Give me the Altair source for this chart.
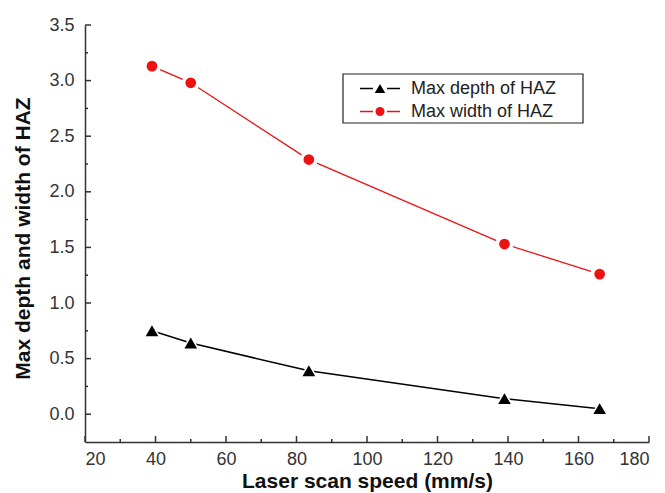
import altair as alt
import pandas as pd

speed = [39, 50, 83.5, 139, 166]
depth = [0.75, 0.64, 0.39, 0.14, 0.05]
width_haz = [3.13, 2.98, 2.29, 1.53, 1.26]
series_names = ["Max depth of HAZ", "Max width of HAZ"]
x_major = [20, 40, 60, 80, 100, 120, 140, 160, 180]
x_minor = [30, 50, 70, 90, 110, 130, 150, 170]
y_major = [0.0, 0.5, 1.0, 1.5, 2.0, 2.5, 3.0, 3.5]
y_minor = [0.25, 0.75, 1.25, 1.75, 2.25, 2.75, 3.25]

W, H = 564, 417
FONT = "Liberation Sans"
RED = "#ee1111"
BLACK = "#000000"

df_d = pd.DataFrame({"speed": speed, "val": depth})
df_w = pd.DataFrame({"speed": speed, "val": width_haz})

xs = alt.Scale(domain=[20, 180], nice=False, zero=False)
ys = alt.Scale(domain=[-0.25, 3.5], nice=False, zero=False)

x_axis = alt.Axis(values=x_major, format="d", tickSize=0, labelPadding=8,
                  labelFontSize=18, labelColor="#333333", labelFont=FONT,
                  title="Laser scan speed (mm/s)", titleFont=FONT, titleFontSize=21,
                  titleFontWeight="bold", titleColor="#111111", titlePadding=2,
                  domainColor="#333333", domainWidth=1.5, grid=False)
y_axis = alt.Axis(values=y_major, format=".1f", tickSize=0, labelPadding=11,
                  labelFontSize=18, labelColor="#333333", labelFont=FONT,
                  title="Max depth and width of HAZ", titleFont=FONT, titleFontSize=21,
                  titleFontWeight="bold", titleColor="#111111", titlePadding=15,
                  titleY=213,
                  domainColor="#333333", domainWidth=1.5, grid=False)

base_x = alt.X("speed:Q", scale=xs, axis=x_axis)
base_y = alt.Y("val:Q", scale=ys, axis=y_axis)

line_d = alt.Chart(df_d).mark_line(color=BLACK, strokeWidth=1.5).encode(x=base_x, y=base_y)
line_w = alt.Chart(df_w).mark_line(color=RED, strokeWidth=1.3).encode(
    x=alt.X("speed:Q", scale=xs), y=alt.Y("val:Q", scale=ys))

gap_d = alt.Chart(df_d).mark_point(shape="triangle-up", filled=True, color="white", size=400, opacity=1).encode(
    x=alt.X("speed:Q", scale=xs), y=alt.Y("val:Q", scale=ys))
pt_d = alt.Chart(df_d).mark_point(shape="triangle-up", filled=True, color=BLACK, size=160, opacity=1).encode(
    x=alt.X("speed:Q", scale=xs), y=alt.Y("val:Q", scale=ys))
gap_w = alt.Chart(df_w).mark_point(shape="circle", filled=True, color="white", size=320, opacity=1).encode(
    x=alt.X("speed:Q", scale=xs), y=alt.Y("val:Q", scale=ys))
pt_w = alt.Chart(df_w).mark_point(shape="circle", filled=True, color=RED, size=115, opacity=1).encode(
    x=alt.X("speed:Q", scale=xs), y=alt.Y("val:Q", scale=ys))

# inward ticks
xt_major = alt.Chart(pd.DataFrame({"t": x_major})).mark_rule(color="#333333", strokeWidth=1.5).encode(
    x=alt.X("t:Q", scale=xs), y=alt.value(H), y2=alt.value(H - 6))
xt_minor = alt.Chart(pd.DataFrame({"t": x_minor})).mark_rule(color="#333333", strokeWidth=1.5).encode(
    x=alt.X("t:Q", scale=xs), y=alt.value(H), y2=alt.value(H - 3))
yt_major = alt.Chart(pd.DataFrame({"t": y_major})).mark_rule(color="#333333", strokeWidth=1.5).encode(
    y=alt.Y("t:Q", scale=ys), x=alt.value(0), x2=alt.value(6))
yt_minor = alt.Chart(pd.DataFrame({"t": y_minor})).mark_rule(color="#333333", strokeWidth=1.5).encode(
    y=alt.Y("t:Q", scale=ys), x=alt.value(0), x2=alt.value(3))

# manual legend
box = alt.Chart(pd.DataFrame({"a": [0]})).mark_rect(fill="white", stroke="#222222", strokeWidth=1.2).encode(
    x=alt.value(258), x2=alt.value(498), y=alt.value(49), y2=alt.value(98))
leg_rows = [(63.5, BLACK, "triangle-up", 110), (86.5, RED, "circle", 80)]
leg_layers = []
for i, (yy, col, shp, sz) in enumerate(leg_rows):
    one = pd.DataFrame({"name": [series_names[i]]})
    leg_layers.append(alt.Chart(one).mark_rule(color=col, strokeWidth=1.5).encode(
        x=alt.value(275), x2=alt.value(288), y=alt.value(yy)))
    leg_layers.append(alt.Chart(one).mark_rule(color=col, strokeWidth=1.5).encode(
        x=alt.value(302), x2=alt.value(315), y=alt.value(yy)))
    leg_layers.append(alt.Chart(one).mark_point(shape=shp, filled=True, color=col, size=sz, opacity=1).encode(
        x=alt.value(295), y=alt.value(yy)))
    leg_layers.append(alt.Chart(one).mark_text(align="left", baseline="middle", font=FONT, fontSize=18,
                                                 color="#222222").encode(
        x=alt.value(326), y=alt.value(yy), text="name:N"))

chart = alt.layer(line_d, line_w, gap_d, gap_w, pt_d, pt_w,
                  xt_major, xt_minor, yt_major, yt_minor, box, *leg_layers).properties(
    width=W, height=H,
    autosize=alt.AutoSizeParams(type="none"),
    padding={"left": 85, "top": 25, "right": 16, "bottom": 51},
    background="white",
).configure_view(stroke=None)

chart.save("out.html", embed_options={"renderer": "svg", "actions": False})
